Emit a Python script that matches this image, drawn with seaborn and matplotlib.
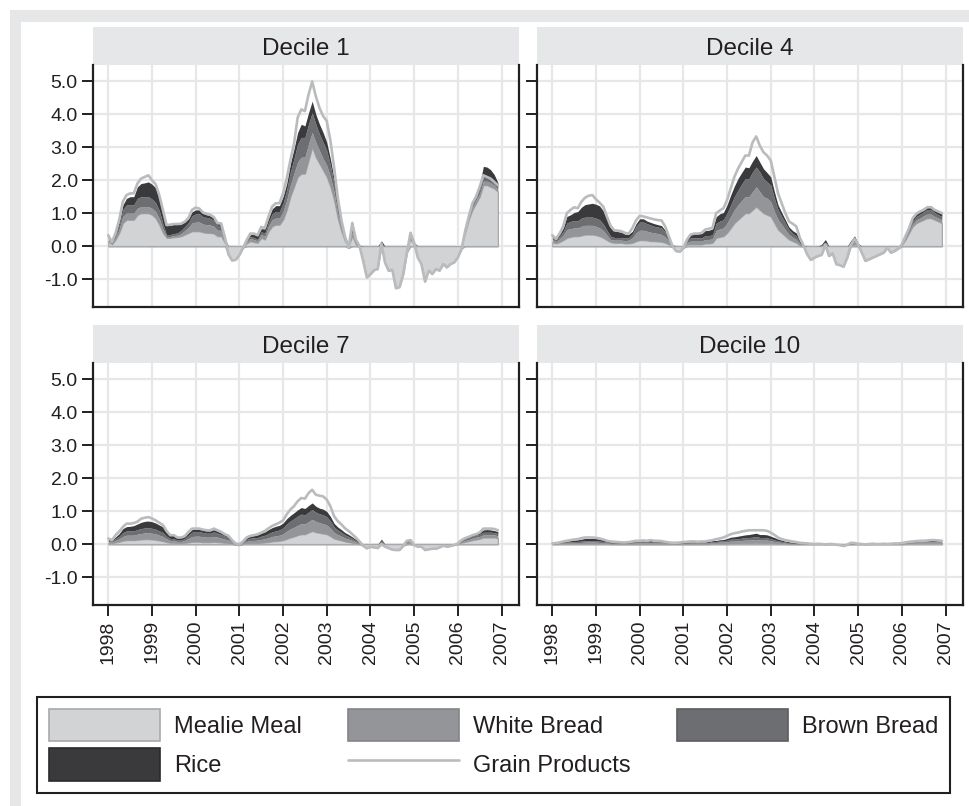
import numpy as np
import pandas as pd
import matplotlib
matplotlib.use("Agg")
import matplotlib.pyplot as plt
import seaborn as sns
from matplotlib.patches import Patch, Rectangle
from matplotlib.lines import Line2D

# ---------------- data (monthly, Jan 1998 - Dec 2006) ----------------
months = pd.date_range("1998-01-01", periods=108, freq="MS")
panels = ["Decile 1", "Decile 4", "Decile 7", "Decile 10"]
components = ["Mealie Meal", "White Bread", "Brown Bread", "Rice"]
line_label = "Grain Products"
year_ticks = list(range(1998, 2008))
y_ticks = [-1, 0, 1, 2, 3, 4, 5]

# Decile 1
grain_d1 = [.33,.12,.40,.80,1.35,1.55,1.6,1.6,1.9,2.05,2.1,2.15,
            2.0,1.88,1.55,1.1,.64,.65,.67,.67,.68,.74,.85,1.1,
            1.17,1.14,1.02,.98,.95,.88,.7,.69,.28,-.25,-.44,-.42,
            -.27,-.05,.18,.38,.38,.33,.58,.55,.9,1.2,1.3,1.3,
            1.6,2.05,2.6,3.1,3.9,4.15,4.1,4.6,5.0,4.55,4.2,3.95,
            3.8,3.2,2.4,1.5,.8,.3,-.05,.7,.2,0,-.45,-.95,
            -.85,-.73,-.7,.08,-.5,-.75,-.72,-1.28,-1.25,-.85,-.2,.4,
            .1,-.35,-.55,-1.08,-.75,-.85,-.7,-.75,-.55,-.65,-.55,-.5,
            -.35,-.1,.45,.9,1.3,1.5,1.8,2.15,2.1,2.05,1.95,1.85]
mealie_d1 = [.15,.05,.2,.4,.7,.8,.8,.8,.95,1.0,1.0,1.0,
             .95,.85,.65,.4,.25,.25,.27,.28,.3,.35,.4,.45,
             .45,.45,.42,.4,.4,.38,.3,.3,.1,-.25,-.42,-.4,
             -.26,-.05,.08,.15,.12,.1,.25,.2,.45,.6,.65,.65,
             .8,1.1,1.5,1.8,2.1,2.2,2.2,2.6,3.0,2.7,2.5,2.3,
             2.1,1.8,1.4,.85,.45,.15,-.06,.3,.05,-.02,-.45,-.95,
             -.85,-.73,-.65,0,-.5,-.75,-.72,-1.28,-1.22,-.85,-.2,.2,
             .05,-.35,-.55,-1.05,-.72,-.82,-.68,-.72,-.52,-.62,-.52,-.47,
             -.32,-.08,.4,.8,1.1,1.3,1.5,1.85,1.85,1.8,1.75,1.65]
white_d1 = [.05,.03,.06,.12,.2,.2,.2,.2,.2,.2,.2,.2,
            .2,.2,.18,.12,.04,.04,.05,.05,.08,.12,.16,.25,
            .28,.28,.25,.25,.24,.22,.18,.18,.08,0,0,0,
            0,0,.04,.08,.08,.06,.1,.1,.15,.2,.2,.2,
            .25,.3,.35,.4,.45,.5,.5,.5,.45,.45,.4,.35,
            .35,.3,.25,.15,.1,.05,.02,.12,.05,.01,0,0,
            0,0,0,.04,0,0,0,0,0,0,0,.08,
            .02,0,0,0,0,0,0,0,0,0,0,0,
            0,0,.03,.05,.08,.1,.1,.12,.12,.12,.1,.08]
brown_d1 = [.05,.02,.06,.12,.2,.25,.25,.25,.3,.3,.3,.3,
            .28,.27,.25,.15,.05,.06,.06,.07,.1,.12,.15,.22,
            .25,.25,.22,.22,.2,.18,.15,.15,.06,0,0,0,
            0,0,.03,.06,.06,.05,.08,.1,.12,.18,.2,.2,
            .25,.3,.4,.45,.55,.6,.6,.6,.6,.55,.5,.5,
            .45,.35,.25,.15,.1,.05,.01,.15,.05,.01,0,0,
            0,0,0,.04,0,0,0,0,0,0,0,.08,
            .02,0,0,0,0,0,0,0,0,0,0,0,
            0,0,.03,.05,.08,.1,.1,.15,.15,.15,.12,.1]
rice_d1 = [.05,.02,.05,.1,.15,.2,.25,.25,.35,.4,.42,.45,
           .45,.45,.4,.35,.28,.28,.28,.26,.2,.15,.12,.12,
           .12,.12,.1,.08,.08,.07,.05,.05,.02,0,0,0,
           0,0,.02,.06,.1,.1,.1,.12,.12,.15,.18,.18,
           .2,.2,.25,.3,.35,.4,.35,.35,.35,.3,.3,.3,
           .25,.2,.15,.1,.08,.05,.01,.2,.05,.01,0,0,
           0,0,0,.08,0,0,0,0,0,0,0,.1,
           .02,0,0,0,0,0,0,0,0,0,0,0,
           0,0,.02,.05,.1,.12,.15,.3,.28,.25,.2,.1]

# Decile 4
grain_d4 = [.33,.22,.38,.6,1.0,1.1,1.18,1.15,1.35,1.47,1.53,1.55,
            1.42,1.32,1.2,.9,.62,.48,.47,.45,.4,.38,.55,.78,
            .92,.9,.87,.84,.81,.79,.78,.6,.3,0,-.15,-.17,
            -.05,.2,.35,.38,.38,.4,.5,.53,.55,1.0,1.08,1.15,
            1.4,1.75,2.1,2.35,2.55,2.75,2.75,3.15,3.33,3.05,2.85,2.75,
            2.6,2.1,1.6,1.3,1.0,.75,.68,.6,.25,.02,-.25,-.42,
            -.35,-.3,-.27,.05,-.3,-.22,-.55,-.58,-.63,-.35,.03,.22,
            .05,-.2,-.45,-.4,-.35,-.3,-.25,-.2,-.05,-.2,-.15,-.08,
            .05,.3,.55,.85,.98,1.05,1.1,1.18,1.18,1.1,1.05,1.0]
mealie_d4 = [.12,.08,.12,.18,.25,.28,.3,.3,.32,.35,.35,.35,
             .33,.3,.25,.18,.12,.1,.1,.1,.08,.08,.1,.15,
             .18,.18,.17,.15,.15,.14,.13,.1,.05,-.03,-.15,-.17,
             -.06,.05,.05,.05,.05,.05,.08,.08,.1,.25,.28,.3,
             .4,.55,.7,.8,.9,1.0,1.0,1.1,1.2,1.1,1.0,.95,
             .9,.7,.5,.4,.3,.2,.15,.1,.02,-.02,-.25,-.42,
             -.35,-.3,-.22,.02,-.3,-.22,-.55,-.58,-.6,-.35,.02,.05,
             .02,-.2,-.45,-.4,-.35,-.3,-.25,-.2,-.05,-.2,-.15,-.08,
             .03,.2,.4,.6,.7,.75,.8,.85,.85,.8,.75,.7]
white_d4 = [.08,.05,.1,.15,.25,.25,.25,.25,.28,.28,.28,.28,
            .27,.25,.22,.15,.08,.08,.08,.08,.08,.1,.15,.25,
            .3,.3,.28,.27,.25,.24,.22,.18,.1,.02,0,0,
            0,.06,.1,.1,.1,.1,.12,.12,.12,.22,.24,.25,
            .3,.35,.4,.45,.48,.5,.5,.55,.6,.55,.5,.5,
            .45,.35,.3,.25,.2,.15,.12,.1,.04,.01,0,0,
            0,0,.02,.05,0,0,0,0,0,0,.05,.08,
            .02,0,0,0,0,0,0,0,0,0,0,0,
            .01,.04,.06,.08,.1,.1,.12,.12,.12,.1,.1,.1]
brown_d4 = [.07,.05,.08,.12,.2,.22,.22,.22,.25,.25,.25,.25,
            .25,.25,.2,.15,.1,.08,.08,.08,.08,.08,.12,.2,
            .25,.25,.23,.22,.2,.2,.2,.15,.08,.02,0,0,
            0,.05,.1,.1,.1,.1,.12,.12,.12,.22,.24,.25,
            .3,.35,.4,.45,.5,.55,.55,.6,.6,.6,.55,.5,
            .5,.4,.3,.25,.2,.15,.12,.1,.04,.01,0,0,
            0,0,.02,.05,0,0,0,0,0,0,.05,.08,
            .02,0,0,0,0,0,0,0,0,0,0,0,
            .01,.04,.06,.08,.1,.12,.12,.14,.14,.12,.1,.1]
rice_d4 = [.05,.03,.06,.1,.2,.2,.25,.28,.33,.38,.4,.42,
           .42,.42,.4,.33,.25,.2,.18,.16,.12,.1,.08,.08,
           .1,.1,.08,.08,.08,.07,.07,.05,.03,.01,0,0,
           0,.04,.1,.12,.13,.13,.15,.16,.18,.2,.22,.22,
           .25,.3,.32,.35,.35,.35,.33,.33,.35,.3,.3,.28,
           .25,.2,.15,.12,.1,.08,.08,.1,.05,.01,0,0,
           0,0,.02,.08,0,0,0,0,0,0,.05,.1,
           .02,0,0,0,0,0,0,0,0,0,0,0,
           .01,.03,.05,.08,.1,.12,.12,.12,.12,.1,.08,.08]

# Decile 7
grain_d7 = [.17,.12,.27,.38,.52,.62,.62,.64,.68,.77,.8,.82,
            .78,.72,.65,.58,.4,.27,.27,.2,.2,.24,.37,.47,
            .47,.47,.44,.42,.42,.47,.42,.37,.3,.25,.12,.02,
            0,.08,.2,.25,.27,.3,.35,.4,.48,.55,.6,.65,
            .72,.9,1.05,1.15,1.3,1.4,1.38,1.55,1.65,1.5,1.47,1.45,
            1.35,1.15,.85,.7,.6,.48,.4,.3,.2,.08,-.05,-.13,
            -.08,-.1,-.12,0,-.08,-.12,-.17,-.18,-.18,-.05,.1,.12,
            -.03,-.08,-.08,-.18,-.16,-.14,-.14,-.1,-.05,-.08,-.06,-.03,
            .02,.12,.18,.22,.27,.3,.35,.47,.47,.47,.46,.42]
mealie_d7 = [.04,.03,.05,.07,.1,.12,.12,.12,.13,.14,.15,.15,
             .14,.13,.11,.09,.06,.04,.04,.03,.03,.04,.05,.07,
             .07,.07,.06,.06,.06,.07,.06,.05,.04,.03,.01,-.02,
             -.03,.01,.02,.03,.03,.03,.04,.05,.06,.08,.09,.1,
             .12,.16,.2,.23,.27,.3,.3,.35,.4,.36,.34,.32,
             .3,.24,.17,.14,.11,.08,.06,.04,.02,0,-.05,-.12,
             -.08,-.1,-.12,.02,-.08,-.12,-.16,-.18,-.17,-.05,.02,.03,
             -.03,-.07,-.08,-.17,-.15,-.13,-.13,-.09,-.04,-.07,-.05,-.02,
             .01,.04,.07,.09,.12,.14,.16,.2,.2,.2,.2,.18]
white_d7 = [.04,.03,.06,.09,.13,.15,.15,.15,.17,.18,.19,.2,
            .19,.18,.16,.14,.1,.07,.06,.05,.05,.07,.12,.16,
            .17,.17,.16,.15,.15,.16,.15,.13,.11,.09,.05,.02,
            .01,.03,.06,.08,.08,.09,.1,.11,.13,.15,.16,.17,
            .19,.23,.26,.28,.3,.32,.31,.33,.35,.33,.31,.3,
            .28,.24,.18,.15,.13,.1,.09,.07,.04,.02,0,0,
            0,0,0,.04,0,0,0,0,0,0,.03,.04,
            0,0,0,0,0,0,0,0,0,0,0,0,
            .01,.03,.04,.05,.06,.07,.07,.08,.08,.08,.08,.07]
brown_d7 = [.04,.03,.06,.08,.12,.13,.13,.13,.14,.15,.15,.15,
            .15,.14,.13,.12,.08,.06,.06,.05,.05,.06,.1,.13,
            .14,.14,.13,.12,.12,.14,.12,.11,.09,.08,.04,.02,
            .01,.02,.06,.07,.08,.08,.1,.11,.13,.14,.15,.16,
            .18,.22,.24,.26,.28,.29,.28,.29,.3,.28,.27,.27,
            .25,.22,.17,.14,.12,.1,.08,.06,.04,.02,0,0,
            0,0,0,.04,0,0,0,0,0,0,.03,.04,
            0,0,0,0,0,0,0,0,0,0,0,0,
            .01,.03,.04,.05,.06,.06,.07,.08,.08,.08,.07,.07]
rice_d7 = [.03,.02,.05,.08,.12,.13,.14,.16,.17,.19,.2,.2,
           .2,.19,.18,.17,.14,.1,.1,.08,.07,.06,.07,.08,
           .08,.08,.07,.07,.07,.07,.06,.05,.04,.03,.02,.01,
           .01,.02,.05,.06,.07,.08,.09,.1,.12,.13,.14,.14,
           .15,.16,.17,.18,.19,.2,.19,.2,.2,.18,.17,.17,
           .16,.14,.11,.09,.08,.07,.06,.05,.04,.02,0,0,
           0,0,0,.05,0,0,0,0,0,0,.03,.05,
           0,0,0,0,0,0,0,0,0,0,0,0,
           .01,.03,.04,.04,.05,.05,.06,.07,.08,.07,.06,.06]

# Decile 10
grain_d10 = [.02,.03,.05,.08,.1,.12,.14,.15,.18,.2,.2,.2,
             .19,.17,.14,.1,.08,.07,.06,.05,.05,.06,.08,.1,
             .1,.11,.1,.12,.1,.1,.09,.07,.05,.04,.04,.05,
             .06,.07,.08,.08,.07,.08,.08,.1,.12,.15,.17,.2,
             .25,.3,.33,.35,.38,.4,.42,.42,.42,.42,.42,.4,
             .35,.28,.2,.15,.12,.1,.08,.06,.04,.03,.02,.01,
             0,.01,0,-.01,0,0,-.02,-.03,-.06,-.02,.04,.03,
             .01,0,-.01,0,.01,0,0,.01,0,.01,.02,.02,
             .03,.05,.07,.08,.09,.1,.1,.11,.12,.12,.11,.1]
mealie_d10 = [0,0,.01,.01,.01,.01,.01,.01,.01,.01,.01,.01,
              .01,.01,.01,.01,0,0,0,0,0,0,0,0,
              0,0,0,0,0,0,0,0,0,0,0,0,
              0,0,0,0,0,0,0,0,.01,.01,.01,.01,
              .01,.02,.02,.02,.03,.03,.03,.03,.04,.03,.03,.03,
              .02,.02,.01,.01,.01,0,0,0,0,0,0,0,
              0,0,0,-.01,0,0,-.02,-.03,-.05,-.02,0,0,
              0,0,-.01,0,0,0,0,0,0,0,0,0,
              0,.01,.02,.02,.03,.03,.03,.03,.03,.03,.03,.03]
white_d10 = [.01,.01,.02,.02,.03,.03,.03,.04,.04,.05,.05,.05,
             .05,.04,.04,.03,.02,.02,.02,.02,.02,.02,.03,.04,
             .04,.04,.04,.05,.04,.04,.04,.03,.02,.02,.01,.02,
             .02,.02,.03,.03,.03,.03,.03,.03,.04,.04,.05,.05,
             .06,.07,.07,.08,.08,.09,.09,.1,.1,.09,.09,.09,
             .08,.06,.05,.04,.03,.02,.02,.01,.01,.01,.01,0,
             0,.01,0,0,0,0,0,0,0,0,.01,.01,
             .01,0,0,0,.01,0,0,.01,0,.01,.01,.01,
             .01,.02,.02,.02,.02,.03,.03,.03,.03,.03,.03,.03]
brown_d10 = [.01,.01,.01,.02,.02,.03,.03,.03,.04,.04,.04,.04,
             .04,.04,.03,.02,.02,.02,.01,.01,.01,.02,.02,.03,
             .03,.03,.03,.03,.03,.03,.02,.02,.01,.01,.01,.01,
             .01,.02,.02,.02,.02,.02,.02,.02,.03,.03,.03,.04,
             .05,.06,.06,.06,.07,.07,.08,.08,.09,.08,.08,.07,
             .06,.05,.04,.03,.02,.02,.01,.01,.01,.01,0,0,
             0,0,0,0,0,0,0,0,0,0,.01,.01,
             0,0,0,0,0,0,0,0,0,0,.01,.01,
             .01,.01,.01,.02,.02,.02,.02,.02,.02,.02,.02,.02]
rice_d10 = [0,.01,.01,.02,.03,.04,.05,.05,.06,.07,.07,.07,
            .07,.06,.05,.04,.03,.02,.02,.02,.02,.01,.02,.02,
            .02,.03,.02,.03,.02,.02,.02,.01,.01,.01,.01,.01,
            .02,.02,.02,.02,.02,.02,.02,.03,.03,.03,.04,.04,
            .05,.06,.07,.08,.08,.09,.09,.1,.1,.09,.09,.09,
            .08,.07,.05,.04,.03,.03,.02,.02,.01,.01,.01,.01,
            0,0,0,0,0,0,0,0,0,0,.02,.01,
            0,0,0,0,0,0,0,0,0,0,0,0,
            .01,.01,.01,.01,.01,.01,.01,.02,.03,.03,.02,.02]

panel_data = {
    "Decile 1": ([mealie_d1, white_d1, brown_d1, rice_d1], grain_d1),
    "Decile 4": ([mealie_d4, white_d4, brown_d4, rice_d4], grain_d4),
    "Decile 7": ([mealie_d7, white_d7, brown_d7, rice_d7], grain_d7),
    "Decile 10": ([mealie_d10, white_d10, brown_d10, rice_d10], grain_d10),
}

# ---------------- style ----------------
fill_colors = ["#d1d3d4", "#939598", "#6d6e71", "#3a3a3c"]
edge_colors = ["#a7a9ac", "#838588", "#5d5e61", "#2a2a2c"]
line_color = "#b9bbbd"
grid_color = "#e6e7e8"
ink = "#231f20"

sns.set_theme(style="white")
plt.rcParams["font.family"] = ["Liberation Sans", "DejaVu Sans"]
plt.rcParams["axes.unicode_minus"] = False

W, H = 969, 806
fig = plt.figure(figsize=(W / 100, H / 100), dpi=100)
fig.patch.set_facecolor("white")
fig.patches.append(Rectangle((10 / W, 0), 1, 1 - 10 / H, transform=fig.transFigure,
                             facecolor="#e6e7e8", edgecolor="none", zorder=-10))
fig.patches.append(Rectangle((21 / W, 0), 1, 1 - 22 / H, transform=fig.transFigure,
                             facecolor="white", edgecolor="none", zorder=-9))


def rect(l, r, t, b):
    return [l / W, 1 - b / H, (r - l) / W, (b - t) / H]


layout = {
    "Decile 1": (93, 519, 65, 307, 27, True, False),
    "Decile 4": (537, 963, 65, 307, 27, False, False),
    "Decile 7": (93, 519, 363, 605, 325, True, True),
    "Decile 10": (537, 963, 363, 605, 325, False, True),
}

x = (months.year + (months.month - 1) / 12.0).to_numpy()

for name in panels:
    l, r, t, b, st, left_col, bottom_row = layout[name]
    comps, grain = panel_data[name]

    sax = fig.add_axes(rect(l, r, st, t))
    sax.set_facecolor("#e6e7e8")
    for s in sax.spines.values():
        s.set_visible(False)
    sax.set_xticks([]); sax.set_yticks([])
    sax.text(0.5, 0.42, name, ha="center", va="center", fontsize=17.5, color=ink,
             transform=sax.transAxes)

    ax = fig.add_axes(rect(l, r, t, b))
    ax.set_facecolor("white")
    pos_base = np.zeros(len(x))
    neg_base = np.zeros(len(x))
    for k, (vals, fc, ec) in enumerate(zip(comps, fill_colors, edge_colors)):
        v = np.asarray(vals, dtype=float)
        pos = np.clip(v, 0, None)
        neg = np.clip(v, None, 0)
        lw = 0.9 if k == 0 else 0.0
        ax.fill_between(x, pos_base, pos_base + pos, facecolor=fc,
                        edgecolor=ec if k == 0 else fc, linewidth=lw, zorder=2 + k * 0.01)
        if np.any(neg < 0):
            ax.fill_between(x, neg_base, neg_base + neg, facecolor=fc,
                            edgecolor=ec if k == 0 else fc, linewidth=lw, zorder=2)
        pos_base = pos_base + pos
        neg_base = neg_base + neg
    sns.lineplot(x=x, y=np.asarray(grain, dtype=float), ax=ax, color=line_color,
                 linewidth=1.9, zorder=3)

    ax.set_xlim(1997.65, 2007.40)
    ax.set_ylim(-1.85, 5.5)
    ax.set_xticks(year_ticks)
    ax.set_yticks(y_ticks)
    ax.grid(True, color=grid_color, linewidth=1.6)
    ax.set_axisbelow(True)
    ax.set_xlabel(""); ax.set_ylabel("")
    ax.spines["top"].set_visible(False)
    for sname in ["left", "right", "bottom"]:
        ax.spines[sname].set_visible(True)
        ax.spines[sname].set_color(ink)
        ax.spines[sname].set_linewidth(1.6)

    ax.tick_params(axis="y", which="both", left=True, right=False, length=8, width=1.4,
                   color=ink, labelleft=left_col, labelsize=14, labelcolor=ink, pad=3)
    if left_col:
        ax.set_yticklabels([f"{v:.1f}" for v in y_ticks])
    ax.tick_params(axis="x", which="both", bottom=bottom_row, top=False, length=8,
                   width=1.4, color=ink, labelbottom=bottom_row, labelsize=14,
                   labelcolor=ink, labelrotation=90, pad=3)

# ---------------- legend ----------------
h_mealie = Patch(facecolor=fill_colors[0], edgecolor=edge_colors[0], linewidth=1.2)
h_white = Patch(facecolor=fill_colors[1], edgecolor=edge_colors[1], linewidth=1.2)
h_brown = Patch(facecolor=fill_colors[2], edgecolor=edge_colors[2], linewidth=1.2)
h_rice = Patch(facecolor=fill_colors[3], edgecolor=edge_colors[3], linewidth=1.2)
h_grain = Line2D([], [], color=line_color, linewidth=1.9)
handles = [h_mealie, h_rice, h_white, h_grain, h_brown]
labels = [components[0], components[3], components[1], line_label, components[2]]
leg = fig.legend(handles, labels, ncol=3, loc="upper left",
                 bbox_to_anchor=(37 / W, 1 - 792 / H, 913 / W, 95 / H), mode="expand",
                 frameon=True, fancybox=False, edgecolor=ink, fontsize=17,
                 handlelength=4.7, handleheight=1.75, handletextpad=0.6,
                 borderpad=0.5, labelspacing=0.28, columnspacing=1.5,
                 borderaxespad=0)
leg.get_frame().set_linewidth(1.5)
leg.get_frame().set_alpha(1.0)
for t in leg.get_texts():
    t.set_color(ink)

fig.savefig("out.png", dpi=100)
